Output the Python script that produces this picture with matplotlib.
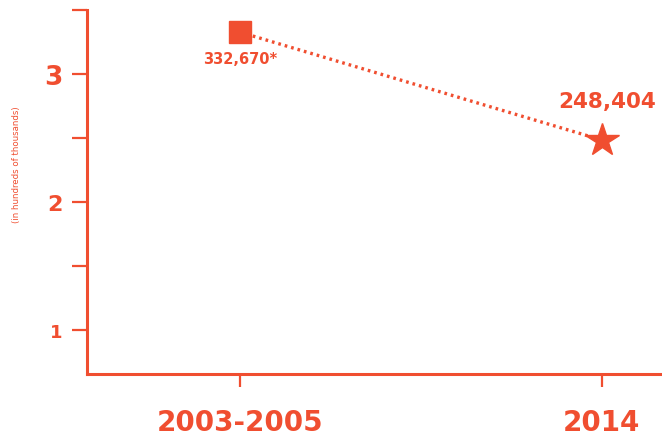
import matplotlib
matplotlib.use("Agg")
import matplotlib.pyplot as plt

# data (in hundreds of thousands)
periods = ["2003-2005", "2014"]
values = [3.3267, 2.48404]
value_labels = ["332,670*", "248,404"]
y_ticks = [1, 1.5, 2, 2.5, 3, 3.5]
y_tick_labels = ["1", "", "2", "", "3", ""]

red = "#F04E30"
plt.rcParams['font.family'] = ['DejaVu Sans']

fig = plt.figure(figsize=(6.62, 4.39), dpi=100)
ax = fig.add_axes([87/662, 1 - 375/439, 1 - 87/662, (375 - 11)/439])

xs = list(range(len(periods)))
ax.plot(xs, values, linestyle=(0, (0.8, 1.2)), color=red, lw=2.4, zorder=2)
ax.plot(xs[0], values[0], marker="s", markersize=15.5, color=red, linestyle="none", zorder=3)
ax.plot(xs[1], values[1], marker="*", markersize=25, color=red, linestyle="none", zorder=3)

ax.annotate(value_labels[0], (xs[0], values[0]), xytext=(0, -19), textcoords="offset points",
            ha="center", va="center", fontsize=10.5, fontweight="bold", color=red)
ax.annotate(value_labels[1], (xs[1], values[1]), xytext=(4, 28), textcoords="offset points",
            ha="center", va="center", fontsize=15.5, fontweight="bold", color=red)

ax.set_xlim(-0.4227, 1.166)
ax.set_ylim(0.656, 3.5)
ax.set_xticks(xs)
ax.set_xticklabels(periods, fontsize=20, fontweight="bold", color=red)
ax.set_yticks(y_ticks)
ax.set_yticklabels(y_tick_labels, fontweight="bold", color=red)
for lab, sz in zip(ax.get_yticklabels(), [13, 13, 16, 16, 19, 19]):
    lab.set_fontsize(sz)

ax.tick_params(axis="y", direction="out", length=10.8, width=1.6, color=red, pad=7)
ax.tick_params(axis="x", direction="out", length=9.4, width=1.6, color=red, pad=15)

for s in ["top", "right"]:
    ax.spines[s].set_visible(False)
for s in ["left", "bottom"]:
    ax.spines[s].set_color(red)
    ax.spines[s].set_linewidth(2.2)
    ax.spines[s].set_capstyle("projecting")

fig.text(17/662, 1 - 165/439, "(in hundreds of thousands)", rotation=90, ha="center", va="center",
         fontsize=6.2, color=red)

fig.savefig("out.png", dpi=100)
